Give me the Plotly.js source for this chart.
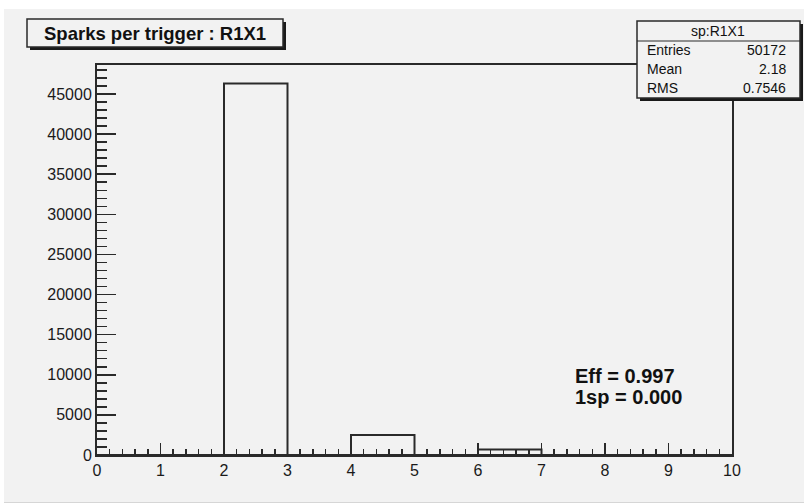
<!DOCTYPE html>
<html>
<head>
<meta charset="utf-8">
<script src="https://cdn.plot.ly/plotly-3.0.1.min.js"></script>
<style>
  html, body { margin: 0; padding: 0; background: #ffffff; width: 804px; height: 504px; overflow: hidden; }
  #canvas { position: absolute; left: 4px; top: 9px; width: 800px; height: 493px; border-bottom: 1px solid #d6d6d6; }
</style>
</head>
<body>
<div id="canvas"></div>
<script>
// Spark multiplicity per trigger, chamber R1X1 (unit-width bins 0..10)
const binLow = [0, 1, 2, 3, 4, 5, 6, 7, 8, 9];
const counts = [0, 0, 46300, 0, 2500, 0, 700, 0, 0, 0];
const binWidth = 1;

const titleText = 'Sparks per trigger : R1X1';
const histName = 'sp:R1X1';
const statLabels = ['Entries', 'Mean', 'RMS'];
const statValues = ['50172', '2.18', '0.7546'];
const effLines = ['Eff = 0.997', '1sp = 0.000'];

// canvas geometry (pixels inside the canvas div)
const W = 800, H = 493;
const M = { l: 93, r: 72, t: 56, b: 47 };
const OX = 4, OY = 9;                      // canvas offset on the page
const PW = W - M.l - M.r, PH = H - M.t - M.b;
const px = X => (X - OX - M.l) / PW;       // page x -> paper x
const py = Y => 1 - (Y - OY - M.t) / PH;   // page y -> paper y

const INK = '#2a2a2a';
const BG = '#f2f2f2';
const FONT = 'Liberation Sans, Arial, Helvetica, sans-serif';

const centers = binLow.map(v => v + binWidth / 2);
const yTop = 1.05 * Math.max(...counts);

const hist = {
  type: 'bar',
  x: centers,
  y: counts,
  width: binWidth,
  marker: { color: 'rgba(0,0,0,0)', line: { color: INK, width: 2 } },
  hoverinfo: 'skip',
  showlegend: false
};

function box(x0, y0, x1, y1) {
  return [
    { type: 'rect', xref: 'paper', yref: 'paper', layer: 'above',
      x0: px(x0 + 3), x1: px(x1 + 3), y0: py(y0 + 3), y1: py(y1 + 3),
      fillcolor: '#1a1a1a', line: { width: 0 } },
    { type: 'rect', xref: 'paper', yref: 'paper', layer: 'above',
      x0: px(x0), x1: px(x1), y0: py(y0), y1: py(y1),
      fillcolor: BG, line: { color: INK, width: 1.5 } }
  ];
}

const shapes = [
  ...box(27, 19, 283, 47),
  ...box(637, 21, 800, 98),
  { type: 'line', xref: 'paper', yref: 'paper', layer: 'above',
    x0: px(637), x1: px(800), y0: py(41), y1: py(41),
    line: { color: INK, width: 1.2 } }
];

const annotations = [
  { text: titleText, xref: 'paper', yref: 'paper', x: px(155), y: py(33),
    xanchor: 'center', yanchor: 'middle', showarrow: false,
    font: { family: FONT, size: 18.5, color: '#111', weight: 'bold' } },
  { text: histName, xref: 'paper', yref: 'paper', x: px(718), y: py(31),
    xanchor: 'center', yanchor: 'middle', showarrow: false,
    font: { family: FONT, size: 14, color: '#111' } }
];
statLabels.forEach((lab, i) => {
  const yy = py(50 + i * 19);
  annotations.push({ text: lab, xref: 'paper', yref: 'paper', x: px(645), y: yy,
    xanchor: 'left', yanchor: 'middle', showarrow: false,
    font: { family: FONT, size: 14, color: '#111' } });
  annotations.push({ text: statValues[i], xref: 'paper', yref: 'paper', x: px(788), y: yy,
    xanchor: 'right', yanchor: 'middle', showarrow: false,
    font: { family: FONT, size: 14, color: '#111' } });
});
effLines.forEach((t, i) => {
  annotations.push({ text: t, xref: 'paper', yref: 'paper', x: px(573), y: py(376 + i * 21),
    xanchor: 'left', yanchor: 'middle', showarrow: false,
    font: { family: FONT, size: 20, color: '#111', weight: 'bold' } });
});

const axisCommon = {
  showline: true, linecolor: INK, linewidth: 2, mirror: true,
  showgrid: false, zeroline: false,
  ticks: 'inside', tickcolor: INK, tickwidth: 1.5,
  tickfont: { family: FONT, size: 16, color: '#1a1a1a' },
  fixedrange: true
};

const layout = {
  width: W, height: H,
  margin: M,
  paper_bgcolor: BG, plot_bgcolor: BG,
  bargap: 0,
  xaxis: Object.assign({}, axisCommon, {
    range: [0, 10], tick0: 0, dtick: 1, ticklen: 12,
    minor: { dtick: 0.2, ticks: 'inside', ticklen: 6, tickcolor: INK, tickwidth: 1.5, showgrid: false }
  }),
  yaxis: Object.assign({}, axisCommon, {
    range: [0, yTop], tick0: 0, dtick: 5000, ticklen: 19, tickformat: 'd',
    minor: { dtick: 1000, ticks: 'inside', ticklen: 10, tickcolor: INK, tickwidth: 1.5, showgrid: false }
  }),
  shapes: shapes,
  annotations: annotations
};

Plotly.newPlot('canvas', [hist], layout, { displayModeBar: false, staticPlot: true });
</script>
</body>
</html>
